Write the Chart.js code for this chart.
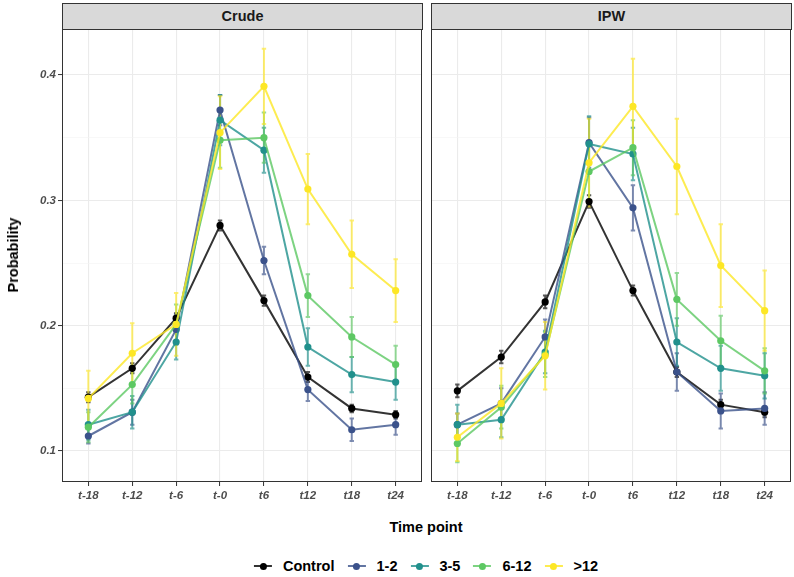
<!DOCTYPE html>
<html>
<head>
<meta charset="utf-8">
<script src="https://cdn.jsdelivr.net/npm/chart.js@4/dist/chart.umd.min.js"></script>
<style>
    html, body { margin: 0; padding: 0; background: #FFFFFF; }
    #page { position: relative; width: 794px; height: 577px; overflow: hidden; font-family: "Liberation Sans", Arial, sans-serif; }
    .panel { position: absolute; top: 29px; height: 490px; }
    .panel canvas { display: block; }
    .strip { position: absolute; top: 3px; height: 27px; box-sizing: border-box; background: #D9D9D9; border: 1px solid #333333; text-align: center; line-height: 25px; font-size: 14.5px; font-weight: bold; color: #1A1A1A; }
    #yTitle { position: absolute; left: 13px; top: 255px; transform: translate(-50%, -50%) rotate(-90deg); font-size: 14.5px; font-weight: bold; color: #000; white-space: nowrap; }
    #xTitle { position: absolute; left: 426px; top: 527px; transform: translate(-50%, -50%); font-size: 14.5px; font-weight: bold; color: #000; white-space: nowrap; }
    #legend { position: absolute; left: 426px; top: 566px; transform: translate(-50%, -50%); display: flex; align-items: center; white-space: nowrap; font-size: 14.5px; font-weight: bold; color: #000; }
    .item { display: flex; align-items: center; margin-right: 13px; }
    .item:last-child { margin-right: 0; }
    .key { position: relative; width: 18px; height: 10px; margin-right: 11px; }
    .key .ln { position: absolute; left: 0; right: 0; top: 4px; height: 2px; }
    .key .pt { position: absolute; left: 5.5px; top: 1.5px; width: 7px; height: 7px; border-radius: 50%; }
</style>
</head>
<body>
<div id="page">
    <div class="strip" style="left:62px;width:361px;">Crude</div>
    <div class="strip" style="left:431px;width:361px;">IPW</div>
    <div class="panel" style="left:0;width:427px;"><canvas id="crudeChart" width="427" height="490"></canvas></div>
    <div class="panel" style="left:427px;width:367px;"><canvas id="ipwChart" width="367" height="490"></canvas></div>
    <div id="yTitle">Probability</div>
    <div id="xTitle">Time point</div>
    <div id="legend"></div>
</div>
<script>
/*
 Probability by time point, crude vs IPW
*/

const timePoints = ["t-18", "t-12", "t-6", "t-0", "t6", "t12", "t18", "t24"];
const groups = ["Control", "1-2", "3-5", "6-12", ">12"];
const groupColors = ["#000000", "#3B528B", "#21908C", "#5DC863", "#FDE725"];

// Crude estimates
const crudeControl = [0.143, 0.166, 0.206, 0.280, 0.220, 0.159, 0.134, 0.129];
const crude12 = [0.112, 0.131, 0.197, 0.372, 0.252, 0.149, 0.117, 0.121];
const crude35 = [0.121, 0.131, 0.187, 0.364, 0.340, 0.183, 0.161, 0.155];
const crude612 = [0.119, 0.153, 0.201, 0.348, 0.350, 0.224, 0.191, 0.169];
const crudeOver12 = [0.142, 0.178, 0.201, 0.354, 0.391, 0.309, 0.257, 0.228];

// Crude error bar half widths
const crudeControlErr = [0.004, 0.004, 0.004, 0.004, 0.004, 0.004, 0.003, 0.003];
const crude12Err = [0.006, 0.010, 0.012, 0.012, 0.011, 0.009, 0.009, 0.008];
const crude35Err = [0.012, 0.013, 0.014, 0.020, 0.018, 0.015, 0.014, 0.014];
const crude612Err = [0.012, 0.015, 0.016, 0.022, 0.020, 0.017, 0.016, 0.015];
const crudeOver12Err = [0.022, 0.024, 0.025, 0.029, 0.030, 0.028, 0.027, 0.025];

// IPW estimates
const ipwControl = [0.148, 0.175, 0.219, 0.299, 0.228, 0.163, 0.137, 0.131];
const ipw12 = [0.121, 0.138, 0.191, 0.346, 0.294, 0.163, 0.132, 0.134];
const ipw35 = [0.121, 0.125, 0.179, 0.345, 0.337, 0.187, 0.166, 0.160];
const ipw612 = [0.106, 0.135, 0.177, 0.323, 0.342, 0.221, 0.188, 0.164];
const ipwOver12 = [0.111, 0.138, 0.176, 0.330, 0.375, 0.327, 0.248, 0.212];

// IPW error bar half widths
const ipwControlErr = [0.005, 0.005, 0.005, 0.005, 0.004, 0.004, 0.004, 0.004];
const ipw12Err = [0.009, 0.012, 0.014, 0.020, 0.018, 0.015, 0.014, 0.013];
const ipw35Err = [0.016, 0.014, 0.017, 0.022, 0.021, 0.019, 0.018, 0.018];
const ipw612Err = [0.015, 0.017, 0.018, 0.024, 0.022, 0.021, 0.020, 0.018];
const ipwOver12Err = [0.019, 0.028, 0.027, 0.035, 0.038, 0.038, 0.033, 0.032];

const yTickLabels = [0.1, 0.2, 0.3, 0.4];

const tickFont = { family: "'Liberation Sans', Arial, sans-serif", size: 11.5, style: "italic", weight: "bold" };

function withAlpha(hex, a) {
    const r = parseInt(hex.slice(1, 3), 16);
    const g = parseInt(hex.slice(3, 5), 16);
    const b = parseInt(hex.slice(5, 7), 16);
    return `rgba(${r},${g},${b},${a})`;
}

function isMajor(v) {
    return yTickLabels.some(t => Math.abs(t - v) < 1e-6);
}

// error bars under the lines
const errorBarPlugin = {
    id: "errorBars",
    beforeDatasetsDraw(chart) {
        const ctx = chart.ctx;
        const xs = chart.scales.x;
        const ys = chart.scales.y;
        ctx.save();
        chart.data.datasets.forEach((ds, di) => {
            ctx.strokeStyle = withAlpha(groupColors[di], 0.65);
            ctx.lineWidth = 2;
            ds.data.forEach((p, i) => {
                const e = ds.errors[i];
                const x = xs.getPixelForValue(p.x);
                const top = ys.getPixelForValue(p.y + e);
                const bot = ys.getPixelForValue(p.y - e);
                ctx.beginPath();
                ctx.moveTo(x, top);
                ctx.lineTo(x, bot);
                ctx.moveTo(x - 2.2, top);
                ctx.lineTo(x + 2.2, top);
                ctx.moveTo(x - 2.2, bot);
                ctx.lineTo(x + 2.2, bot);
                ctx.stroke();
            });
        });
        ctx.restore();
    }
};

const panelBorderPlugin = {
    id: "panelBorder",
    afterDraw(chart) {
        const a = chart.chartArea;
        const ctx = chart.ctx;
        ctx.save();
        ctx.strokeStyle = "#333333";
        ctx.lineWidth = 1;
        ctx.strokeRect(a.left + 0.5, a.top + 0.5, a.right - a.left - 1, a.bottom - a.top - 1);
        ctx.restore();
    }
};

function noScalePadding(s) {
    s.paddingTop = 0;
    s.paddingBottom = 0;
    s.paddingLeft = 0;
    s.paddingRight = 0;
}

function buildDatasets(series, errors) {
    return series.map((values, gi) => ({
        label: groups[gi],
        data: values.map((v, i) => ({ x: i, y: v })),
        errors: errors[gi],
        borderColor: withAlpha(groupColors[gi], 0.8),
        backgroundColor: groupColors[gi],
        pointBackgroundColor: groupColors[gi],
        pointBorderWidth: 0,
        pointRadius: 3.6,
        borderWidth: 2,
        tension: 0,
        order: groups.length - gi
    }));
}

function createPanel(canvasId, series, errors, showYLabels) {
    const canvas = document.getElementById(canvasId);

    new Chart(canvas, {
        type: "line",
        data: { datasets: buildDatasets(series, errors) },
        options: {
            responsive: false,
            animation: false,
            layout: {
                autoPadding: false,
                padding: { top: 0, right: showYLabels ? 5 : 3, bottom: 0, left: 0 }
            },
            plugins: { legend: { display: false }, tooltip: { enabled: false } },
            scales: {
                x: {
                    type: "linear",
                    min: -0.6,
                    max: 7.6,
                    border: { display: false },
                    grid: {
                        color: "#EBEBEB",
                        lineWidth: 1.1,
                        tickColor: "#333333",
                        tickWidth: 1,
                        tickLength: 4
                    },
                    ticks: {
                        stepSize: 1,
                        includeBounds: false,
                        autoSkip: false,
                        maxRotation: 0,
                        padding: 3,
                        color: "#4D4D4D",
                        font: tickFont,
                        callback: v => timePoints[v]
                    },
                    afterFit: s => { s.height = 37; noScalePadding(s); }
                },
                y: {
                    type: "linear",
                    min: 0.0753,
                    max: 0.4367,
                    border: { display: false },
                    grid: {
                        color: ctx => isMajor(ctx.tick.value) ? "#EBEBEB" : "#F4F4F4",
                        lineWidth: ctx => isMajor(ctx.tick.value) ? 1.1 : 0.6,
                        drawTicks: showYLabels,
                        tickColor: ctx => isMajor(ctx.tick.value) ? "#333333" : "rgba(0,0,0,0)",
                        tickWidth: 1,
                        tickLength: 4
                    },
                    ticks: {
                        display: showYLabels,
                        stepSize: 0.05,
                        includeBounds: false,
                        padding: 2,
                        color: "#4D4D4D",
                        font: tickFont,
                        callback: v => isMajor(v) ? v.toFixed(1) : ""
                    },
                    afterFit: s => { s.width = showYLabels ? 62 : 4; noScalePadding(s); }
                }
            }
        },
        plugins: [errorBarPlugin, panelBorderPlugin]
    });
}

function buildLegend() {
    const legend = document.getElementById("legend");
    groups.forEach((g, i) => {
        const item = document.createElement("div");
        item.className = "item";
        item.innerHTML = `<span class="key"><span class="ln" style="background:${withAlpha(groupColors[i], 0.8)}"></span>` +
            `<span class="pt" style="background:${groupColors[i]}"></span></span><span>${g}</span>`;
        legend.appendChild(item);
    });
}

document.addEventListener("DOMContentLoaded", () => {
    createPanel("crudeChart",
        [crudeControl, crude12, crude35, crude612, crudeOver12],
        [crudeControlErr, crude12Err, crude35Err, crude612Err, crudeOver12Err],
        true);
    createPanel("ipwChart",
        [ipwControl, ipw12, ipw35, ipw612, ipwOver12],
        [ipwControlErr, ipw12Err, ipw35Err, ipw612Err, ipwOver12Err],
        false);
    buildLegend();
});
</script>
</body>
</html>
